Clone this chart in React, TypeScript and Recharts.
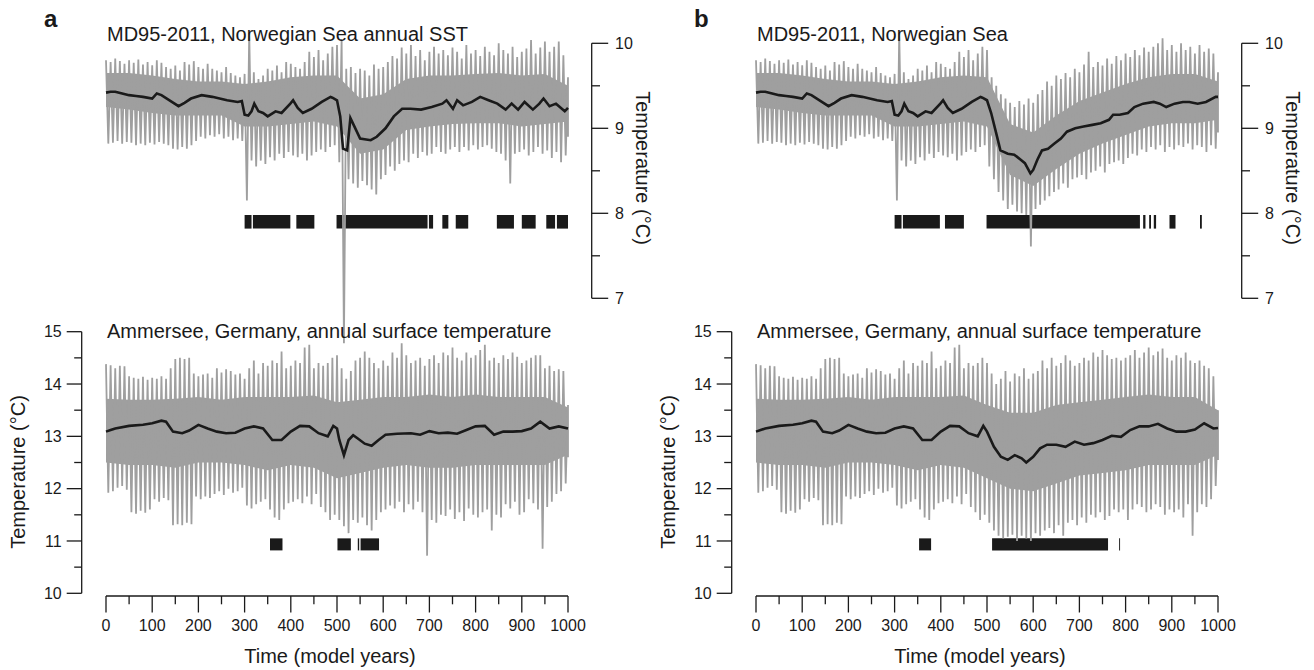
import React from 'react';
import { ComposedChart, Line, Area, XAxis, YAxis, ReferenceArea } from 'recharts';

// ---------------- data ----------------
// Annual grey series: per 10-year bin, upper and lower excursion (°C).
// Years 0-490 are identical in both panels.
const sstHiShared = [9.80, 9.78, 9.82, 9.79, 9.76, 9.80, 9.77, 9.81, 9.75, 9.78,
  9.74, 9.80, 9.77, 9.72, 9.70, 9.74, 9.68, 9.78, 9.75, 9.79,
  9.72, 9.70, 9.76, 9.70, 9.68, 9.66, 9.72, 9.65, 9.62, 9.60,
  9.64, 10.12, 9.66, 9.58, 9.62, 9.70, 9.68, 9.74, 9.66, 9.78,
  9.76, 9.72, 9.70, 9.78, 9.90, 9.84, 9.92, 9.80, 9.88, 9.96];
const sstLoShared = [8.82, 8.83, 8.85, 8.82, 8.84, 8.83, 8.80, 8.82, 8.80, 8.83,
  8.81, 8.84, 8.82, 8.80, 8.76, 8.75, 8.78, 8.76, 8.80, 8.85,
  8.90, 8.88, 8.92, 8.90, 8.93, 8.88, 8.90, 8.86, 8.88, 8.85,
  8.15, 8.62, 8.55, 8.62, 8.58, 8.66, 8.62, 8.70, 8.65, 8.72,
  8.68, 8.66, 8.70, 8.62, 8.68, 8.72, 8.75, 8.72, 8.78, 8.80];
const sstHiA = [9.98, 10.05, 9.70, 9.72, 9.65, 9.70, 9.68, 9.62, 9.75, 9.70,
  9.72, 9.78, 9.85, 9.82, 9.95, 9.88, 9.98, 9.85, 9.92, 9.80,
  9.90, 9.96, 9.88, 9.92, 9.86, 9.95, 9.90, 9.82, 9.98, 9.88,
  9.92, 9.85, 9.96, 9.90, 9.86, 10.00, 9.92, 9.88, 9.96, 9.84,
  9.90, 9.94, 10.04, 9.88, 9.95, 10.02, 9.90, 9.96, 10.02, 9.86, 9.60];
const sstLoA = [8.60, 6.47, 8.40, 8.35, 8.30, 8.38, 8.33, 8.28, 8.22, 8.40,
  8.45, 8.55, 8.50, 8.58, 8.62, 8.60, 8.70, 8.65, 8.72, 8.68,
  8.70, 8.78, 8.72, 8.70, 8.75, 8.78, 8.72, 8.78, 8.74, 8.80,
  8.75, 8.78, 8.80, 8.76, 8.72, 8.70, 8.62, 8.35, 8.70, 8.72,
  8.75, 8.68, 8.72, 8.78, 8.70, 8.74, 8.65, 8.72, 8.60, 8.68, 8.90];
const sstHiB = [9.92, 9.60, 9.50, 9.40, 9.35, 9.30, 9.25, 9.32, 9.28, 9.35,
  9.30, 9.40, 9.45, 9.55, 9.50, 9.62, 9.58, 9.65, 9.60, 9.70,
  9.66, 9.75, 9.90, 9.72, 9.78, 9.74, 9.82, 9.76, 9.85, 9.80,
  9.88, 9.84, 9.92, 9.86, 9.95, 9.90, 9.96, 10.00, 10.06, 9.92,
  9.98, 9.90, 10.00, 9.92, 9.96, 9.88, 9.98, 9.90, 9.94, 9.88, 9.66];
const sstLoB = [8.55, 8.40, 8.25, 8.15, 8.05, 8.10, 8.02, 8.00, 7.98, 7.61,
  8.05, 8.10, 8.15, 8.20, 8.25, 8.28, 8.35, 8.30, 8.40, 8.42,
  8.45, 8.40, 8.48, 8.50, 8.55, 8.48, 8.58, 8.60, 8.62, 8.58,
  8.65, 8.70, 8.68, 8.75, 8.72, 8.78, 8.75, 8.80, 8.72, 8.78,
  8.75, 8.80, 8.78, 8.82, 8.75, 8.80, 8.78, 8.72, 8.80, 8.76, 8.95];

const ammHiShared = [14.38, 14.36, 14.30, 14.35, 14.34, 14.15, 14.12, 14.10, 14.14, 14.08,
  14.12, 14.10, 14.15, 14.10, 14.30, 14.48, 14.50, 14.48, 14.50, 14.20,
  14.15, 14.18, 14.20, 14.12, 14.30, 14.22, 14.28, 14.25, 14.18, 14.20,
  14.10, 14.30, 14.45, 14.20, 14.40, 14.35, 14.45, 14.40, 14.62, 14.30,
  14.35, 14.45, 14.40, 14.70, 14.75, 14.30, 14.40, 14.35, 14.40, 14.50];
const ammLoShared = [11.92, 11.95, 12.02, 12.05, 11.98, 11.55, 11.52, 11.58, 11.54, 11.60,
  11.80, 11.75, 11.82, 11.78, 11.30, 11.32, 11.30, 11.35, 11.32, 11.85,
  11.80, 11.85, 11.82, 11.90, 11.95, 11.88, 12.00, 11.92, 11.95, 12.02,
  11.68, 11.62, 11.70, 11.75, 11.80, 11.60, 11.45, 11.40, 11.60, 11.72,
  11.75, 11.80, 11.72, 11.85, 11.70, 11.90, 11.65, 11.55, 11.40, 11.50];
const ammHiA = [14.55, 14.30, 14.10, 14.25, 14.45, 14.50, 14.62, 14.50, 14.40, 14.30,
  14.45, 14.35, 14.60, 14.50, 14.78, 14.55, 14.40, 14.45, 14.50, 14.35,
  14.48, 14.55, 14.40, 14.60, 14.55, 14.70, 14.50, 14.45, 14.60, 14.50,
  14.55, 14.65, 14.75, 14.45, 14.50, 14.40, 14.55, 14.48, 14.60, 14.52,
  14.40, 14.45, 14.50, 14.55, 14.55, 14.30, 14.35, 14.25, 14.28, 14.25, 13.60];
const ammLoA = [11.40, 11.28, 11.15, 11.40, 11.35, 11.45, 11.30, 11.20, 11.40, 11.55,
  11.60, 11.68, 11.62, 11.75, 11.55, 11.70, 11.60, 11.75, 11.55, 10.72,
  11.40, 11.35, 11.50, 11.48, 11.60, 11.42, 11.55, 11.38, 11.62, 11.50,
  11.45, 11.55, 11.60, 11.20, 11.50, 11.45, 11.70, 11.62, 11.75, 11.50,
  11.55, 11.80, 11.72, 11.60, 10.85, 11.65, 11.75, 11.90, 11.95, 12.10, 12.60];
const ammHiB = [14.40, 14.20, 14.00, 14.10, 14.25, 14.05, 14.20, 14.15, 14.30, 14.10,
  14.20, 14.25, 14.45, 14.30, 14.50, 14.35, 14.40, 14.55, 14.45, 14.35,
  14.40, 14.50, 14.45, 14.60, 14.52, 14.65, 14.55, 14.48, 14.50, 14.45,
  14.50, 14.55, 14.65, 14.50, 14.60, 14.70, 14.55, 14.62, 14.68, 14.50,
  14.45, 14.55, 14.50, 14.60, 14.45, 14.40, 14.45, 14.35, 14.30, 14.15, 13.50];
const ammLoB = [11.35, 11.20, 11.10, 11.05, 11.08, 11.12, 11.00, 11.10, 11.05, 11.00,
  11.15, 11.10, 11.20, 11.25, 11.15, 11.30, 11.10, 11.35, 11.40, 11.30,
  11.45, 11.35, 11.50, 11.45, 11.55, 11.40, 11.48, 11.60, 11.55, 11.60,
  11.40, 11.60, 11.70, 11.65, 11.55, 11.60, 11.70, 11.65, 11.50, 11.60,
  11.55, 11.60, 11.45, 11.70, 11.10, 11.55, 11.70, 11.65, 11.80, 12.05, 12.55];

// Dense core of the grey band, every 50 years: [lower, upper] (°C)
const sstCoreShared = [[9.25, 9.65], [9.22, 9.65], [9.18, 9.62], [9.15, 9.58], [9.15, 9.55],
  [9.15, 9.55], [9.02, 9.52], [9.02, 9.55], [9.05, 9.60], [9.08, 9.62]];
const sstCoreA = [[9.02, 9.62], [8.70, 9.35], [8.75, 9.40], [8.98, 9.58], [9.02, 9.62], [9.05, 9.62],
  [9.06, 9.64], [9.06, 9.65], [9.02, 9.62], [9.05, 9.64], [9.08, 9.50]];
const sstCoreB = [[9.02, 9.60], [8.45, 9.05], [8.32, 8.95], [8.52, 9.15], [8.70, 9.32], [8.82, 9.42],
  [8.92, 9.52], [9.02, 9.60], [9.06, 9.64], [9.06, 9.64], [9.10, 9.55]];
const ammCoreShared = [[12.50, 13.72], [12.45, 13.70], [12.45, 13.70], [12.40, 13.72], [12.50, 13.75],
  [12.50, 13.70], [12.45, 13.75], [12.35, 13.75], [12.45, 13.75], [12.40, 13.78]];
const ammCoreA = [[12.20, 13.65], [12.30, 13.70], [12.40, 13.75], [12.45, 13.75], [12.40, 13.80], [12.40, 13.75],
  [12.45, 13.80], [12.45, 13.75], [12.45, 13.75], [12.45, 13.75], [12.65, 13.55]];
const ammCoreB = [[12.20, 13.60], [12.00, 13.45], [11.95, 13.45], [12.10, 13.60], [12.25, 13.65], [12.30, 13.70],
  [12.35, 13.75], [12.45, 13.80], [12.45, 13.75], [12.45, 13.75], [12.65, 13.50]];

// Smoothed (black) curves: [year, °C]
const sstSmoothShared = [[0, 9.42], [10, 9.43], [20, 9.43], [35, 9.41], [50, 9.39], [65, 9.38], [80, 9.37],
  [100, 9.35], [110, 9.41], [120, 9.39], [140, 9.32], [157, 9.26], [170, 9.30], [184, 9.35], [207, 9.39],
  [230, 9.37], [262, 9.33], [285, 9.31], [294, 9.32], [300, 9.16], [308, 9.15], [315, 9.20], [321, 9.29],
  [330, 9.20], [340, 9.18], [350, 9.14], [367, 9.20], [380, 9.18], [399, 9.29], [405, 9.33], [415, 9.24],
  [426, 9.18], [445, 9.23], [467, 9.31], [486, 9.37], [490, 9.36]];
const sstSmoothA = [[500, 9.33], [507, 9.14], [513, 8.76], [522, 8.74], [529, 9.12], [536, 9.04], [550, 8.88],
  [573, 8.86], [586, 8.90], [605, 9.00], [623, 9.14], [641, 9.23], [659, 9.23], [682, 9.22], [705, 9.25],
  [728, 9.29], [737, 9.33], [751, 9.23], [760, 9.33], [773, 9.27], [792, 9.31], [810, 9.37], [828, 9.33],
  [847, 9.29], [865, 9.22], [878, 9.29], [892, 9.22], [906, 9.31], [924, 9.22], [938, 9.29], [947, 9.35],
  [960, 9.26], [974, 9.29], [993, 9.20], [1000, 9.24]];
const sstSmoothB = [[500, 9.33], [509, 9.18], [520, 8.94], [529, 8.74], [545, 8.70], [559, 8.69], [573, 8.63],
  [582, 8.59], [594, 8.47], [600, 8.51], [609, 8.63], [619, 8.74], [632, 8.76], [646, 8.82], [660, 8.88],
  [673, 8.96], [691, 9.00], [709, 9.02], [728, 9.04], [746, 9.06], [764, 9.10], [773, 9.16], [787, 9.16],
  [805, 9.18], [819, 9.25], [838, 9.29], [861, 9.31], [874, 9.29], [888, 9.25], [906, 9.29], [924, 9.31],
  [938, 9.31], [956, 9.29], [974, 9.31], [995, 9.37], [1000, 9.37]];
const ammSmoothShared = [[0, 13.09], [10, 13.12], [20, 13.15], [50, 13.20], [80, 13.22], [100, 13.25], [120, 13.30],
  [130, 13.28], [145, 13.09], [165, 13.06], [180, 13.11], [200, 13.22], [220, 13.15], [240, 13.09], [260, 13.06],
  [280, 13.07], [300, 13.15], [320, 13.19], [340, 13.15], [360, 12.93], [380, 12.93], [400, 13.09], [420, 13.20],
  [440, 13.19], [460, 13.06], [480, 13.00], [492, 13.20]];
const ammSmoothA = [[500, 13.15], [505, 12.93], [515, 12.64], [525, 12.93], [535, 13.02], [545, 12.96], [560, 12.86],
  [575, 12.82], [590, 12.93], [605, 13.03], [630, 13.05], [660, 13.06], [680, 13.03], [700, 13.10], [720, 13.06],
  [740, 13.07], [760, 13.05], [780, 13.12], [800, 13.19], [820, 13.20], [840, 13.03], [860, 13.09], [880, 13.09],
  [900, 13.10], [920, 13.15], [940, 13.28], [960, 13.15], [980, 13.19], [1000, 13.15]];
const ammSmoothB = [[500, 13.09], [515, 12.80], [530, 12.61], [545, 12.55], [560, 12.64], [575, 12.58], [585, 12.50],
  [600, 12.61], [615, 12.77], [630, 12.84], [650, 12.84], [670, 12.80], [690, 12.90], [710, 12.84], [730, 12.87],
  [750, 12.93], [770, 13.01], [790, 12.99], [810, 13.12], [830, 13.19], [850, 13.19], [870, 13.24], [890, 13.15],
  [910, 13.09], [930, 13.09], [950, 13.13], [970, 13.25], [990, 13.15], [1000, 13.16]];

// Significance intervals (years) and the level at which they are marked (°C)
const sigSstA = [[300, 315], [318, 399], [412, 451], [499, 696], [699, 708], [728, 741], [757, 784],
  [846, 883], [900, 930], [953, 972], [976, 1000]];
const sigAmmA = [[355, 382], [501, 530], [545, 548], [551, 591]];
const sigSstB = [[300, 315], [318, 398], [409, 450], [499, 831], [838, 843], [851, 855], [861, 866],
  [895, 908], [961, 965]];
const sigAmmB = [[353, 379], [511, 762], [786, 788]];
const sigSstLevel = [7.82, 7.98];
const sigAmmLevel = [10.82, 11.05];

// Axis ticks
const xTicks = [0, 50, 100, 150, 200, 250, 300, 350, 400, 450, 500, 550, 600, 650, 700, 750, 800, 850, 900, 950, 1000];
const sstTicks = [7, 7.5, 8, 8.5, 9, 9.5, 10];
const ammTicks = [10, 10.5, 11, 11.5, 12, 12.5, 13, 13.5, 14, 14.5, 15];

const BIN = 10;
const CORE_STEP = 50;

// ---------------- layout & style ----------------
const FONT = '"Liberation Sans", Arial, Helvetica, sans-serif';
const INK = '#1a1a1a';
const GREY = '#9f9f9f';
const PAGE_W = 1314, PAGE_H = 670;
const PANEL_DX = 650;
const CHART_W = 660;
const PLOT_L = 106, PLOT_R = 568;
const SST_Y10 = 43.3, SST_Y7 = 298.3;
const AMM_Y15 = 331.7, AMM_Y10 = 593.3;
const XAXIS_Y = 596, XAXIS_H = 70;
const LEFT_AXIS_X = 81.7, RIGHT_AXIS_X = 591.7;
const SST_DATA_H = 360;
const SST_PX = (SST_Y7 - SST_Y10) / 3;
const AMM_PX = (AMM_Y10 - AMM_Y15) / 5;
const SST_DOMAIN = [10 - (SST_DATA_H - SST_Y10) / SST_PX, 10 + SST_Y10 / SST_PX];
const AMM_DOMAIN = [10 - (XAXIS_Y - AMM_Y10) / AMM_PX, 15];
const GREY_W = 1.8;

type Pt = { t: number; v: number | number[] };

function zigzag(hi: number[], lo: number[]) {
  const pts: Pt[] = [];
  hi.forEach((h, i) => {
    const t = i * BIN;
    pts.push({ t, v: h });
    pts.push({ t: Math.min(t + BIN / 2, 1000), v: lo[i] });
  });
  return pts;
}
const core = (arr: number[][]): Pt[] => arr.map((r, i) => ({ t: i * CORE_STEP, v: r }));
const pairs = (arr: number[][]): Pt[] => arr.map(([t, v]) => ({ t, v }));

const XTick = (p: any) => {
  const { x, y, payload } = p;
  const major = payload.value % 100 === 0;
  return (
    <g>
      <line x1={x} x2={x} y1={y} y2={y + (major ? 16.5 : 8.3)} stroke={INK} strokeWidth={1.3} />
      {major && (
        <text x={x} y={y + 34.7} textAnchor="middle" fontSize={16} fontFamily={FONT} fill={INK}>
          {payload.value}
        </text>
      )}
    </g>
  );
};
const LeftTick = (p: any) => {
  const { x, y, payload } = p;
  const major = Number.isInteger(payload.value);
  return (
    <g>
      <line x1={x - (major ? 15 : 7.5)} x2={x} y1={y} y2={y} stroke={INK} strokeWidth={1.3} />
      {major && (
        <text x={x - 20} y={y + 5.7} textAnchor="end" fontSize={16} fontFamily={FONT} fill={INK}>
          {payload.value}
        </text>
      )}
    </g>
  );
};
const RightTick = (p: any) => {
  const { x, y, payload } = p;
  const major = Number.isInteger(payload.value);
  return (
    <g>
      <line x1={x} x2={x + (major ? 16.5 : 8.3)} y1={y} y2={y} stroke={INK} strokeWidth={1.3} />
      {major && (
        <text x={x + 23.3} y={y + 5.7} textAnchor="start" fontSize={16} fontFamily={FONT} fill={INK}>
          {payload.value}
        </text>
      )}
    </g>
  );
};

type PanelProps = {
  dx: number;
  sstGrey: Pt[];
  sstCore: Pt[];
  sstSmooth: Pt[];
  ammGrey: Pt[];
  ammCore: Pt[];
  ammSmooth: Pt[];
  sigSst: number[][];
  sigAmm: number[][];
};

const abs = (left: number, top: number): React.CSSProperties => ({ position: 'absolute', left, top });

function Panel({ dx, sstGrey, sstCore, sstSmooth, ammGrey, ammCore, ammSmooth, sigSst, sigAmm }: PanelProps) {
  const axisLine = { stroke: INK, strokeWidth: 1.3 };
  return (
    <>
      {/* left axis of the Ammersee plot */}
      <div style={abs(dx, 0)}>
        <ComposedChart width={CHART_W} height={PAGE_H}
          margin={{ top: AMM_Y15, bottom: PAGE_H - AMM_Y10, left: LEFT_AXIS_X - 80, right: CHART_W - PLOT_R }}>
          <XAxis type="number" dataKey="t" domain={[0, 1000]} hide />
          <YAxis type="number" domain={[10, 15]} allowDataOverflow ticks={ammTicks} interval={0} width={80}
            tickSize={0} tickMargin={0} tickLine={false} axisLine={axisLine} tick={(p: any) => <LeftTick {...p} />} />
        </ComposedChart>
      </div>
      {/* Ammersee data + time axis */}
      <div style={abs(dx, 0)}>
        <ComposedChart width={CHART_W} height={PAGE_H}
          margin={{ top: AMM_Y15, bottom: PAGE_H - XAXIS_Y - XAXIS_H, left: PLOT_L, right: CHART_W - PLOT_R }}>
          <XAxis type="number" dataKey="t" domain={[0, 1000]} ticks={xTicks} interval={0} height={XAXIS_H}
            tickSize={0} tickMargin={0} tickLine={false} axisLine={axisLine} tick={(p: any) => <XTick {...p} />} />
          <YAxis type="number" domain={AMM_DOMAIN} allowDataOverflow hide />
          <Area data={ammCore} dataKey="v" type="linear" fill={GREY} fillOpacity={1} stroke="none"
            isAnimationActive={false} />
          <Line data={ammGrey} dataKey="v" type="linear" stroke={GREY} strokeWidth={GREY_W} dot={false}
            isAnimationActive={false} />
          <Line data={ammSmooth} dataKey="v" type="linear" stroke={INK} strokeWidth={2.6} dot={false}
            isAnimationActive={false} />
          {sigAmm.map(([a, b], i) => (
            <ReferenceArea key={i} x1={a} x2={b} y1={sigAmmLevel[0]} y2={sigAmmLevel[1]} fill={INK}
              fillOpacity={1} stroke="none" />
          ))}
        </ComposedChart>
      </div>
      {/* right axis of the Norwegian Sea plot */}
      <div style={abs(dx, 0)}>
        <ComposedChart width={CHART_W} height={320}
          margin={{ top: SST_Y10, bottom: 320 - SST_Y7, left: PLOT_L, right: CHART_W - RIGHT_AXIS_X - 60 }}>
          <XAxis type="number" dataKey="t" domain={[0, 1000]} hide />
          <YAxis yAxisId="r" orientation="right" type="number" domain={[7, 10]} allowDataOverflow ticks={sstTicks}
            interval={0} width={60} tickSize={0} tickMargin={0} tickLine={false} axisLine={axisLine}
            tick={(p: any) => <RightTick {...p} />} />
        </ComposedChart>
      </div>
      {/* Norwegian Sea data */}
      <div style={abs(dx, 0)}>
        <ComposedChart width={CHART_W} height={SST_DATA_H}
          margin={{ top: 0, bottom: 0, left: PLOT_L, right: CHART_W - PLOT_R }}>
          <XAxis type="number" dataKey="t" domain={[0, 1000]} hide />
          <YAxis type="number" domain={SST_DOMAIN} allowDataOverflow hide />
          <Area data={sstCore} dataKey="v" type="linear" fill={GREY} fillOpacity={1} stroke="none"
            isAnimationActive={false} />
          <Line data={sstGrey} dataKey="v" type="linear" stroke={GREY} strokeWidth={GREY_W} dot={false}
            isAnimationActive={false} />
          <Line data={sstSmooth} dataKey="v" type="linear" stroke={INK} strokeWidth={2.6} dot={false}
            isAnimationActive={false} />
          {sigSst.map(([a, b], i) => (
            <ReferenceArea key={i} x1={a} x2={b} y1={sigSstLevel[0]} y2={sigSstLevel[1]} fill={INK}
              fillOpacity={1} stroke="none" />
          ))}
        </ComposedChart>
      </div>
    </>
  );
}

function Texts({ dx, letter, topTitle }: { dx: number; letter: string; topTitle: string }) {
  return (
    <g fontFamily={FONT} fill={INK}>
      <text x={dx + 44} y={27.3} fontSize={24} fontWeight="bold">{letter}</text>
      <text x={dx + 107} y={40.7} fontSize={20}>{topTitle}</text>
      <text x={dx + 107} y={337.5} fontSize={20}>Ammersee, Germany, annual surface temperature</text>
      <text x={dx + 330} y={663.3} fontSize={20} textAnchor="middle">Time (model years)</text>
      <text transform={`translate(${dx + 18.3},472) rotate(-90)`} fontSize={20} textAnchor="middle" dy="0.35em">
        Temperature (°C)
      </text>
      <text transform={`translate(${dx + 643},168) rotate(90)`} fontSize={20} textAnchor="middle" dy="0.35em">
        Temperature (°C)
      </text>
    </g>
  );
}

export default function App() {
  const sstGreyA = zigzag(sstHiShared.concat(sstHiA), sstLoShared.concat(sstLoA));
  const sstGreyB = zigzag(sstHiShared.concat(sstHiB), sstLoShared.concat(sstLoB));
  const ammGreyA = zigzag(ammHiShared.concat(ammHiA), ammLoShared.concat(ammLoA));
  const ammGreyB = zigzag(ammHiShared.concat(ammHiB), ammLoShared.concat(ammLoB));
  return (
    <div style={{ position: 'absolute', left: 0, top: 0, width: PAGE_W, height: PAGE_H, background: '#fff', overflow: 'hidden' }}>
      <Panel dx={0} sstGrey={sstGreyA} sstCore={core(sstCoreShared.concat(sstCoreA))}
        sstSmooth={pairs(sstSmoothShared.concat(sstSmoothA))}
        ammGrey={ammGreyA} ammCore={core(ammCoreShared.concat(ammCoreA))}
        ammSmooth={pairs(ammSmoothShared.concat(ammSmoothA))} sigSst={sigSstA} sigAmm={sigAmmA} />
      <Panel dx={PANEL_DX} sstGrey={sstGreyB} sstCore={core(sstCoreShared.concat(sstCoreB))}
        sstSmooth={pairs(sstSmoothShared.concat(sstSmoothB))}
        ammGrey={ammGreyB} ammCore={core(ammCoreShared.concat(ammCoreB))}
        ammSmooth={pairs(ammSmoothShared.concat(ammSmoothB))} sigSst={sigSstB} sigAmm={sigAmmB} />
      <svg width={PAGE_W} height={PAGE_H} style={{ position: 'absolute', left: 0, top: 0, pointerEvents: 'none' }}>
        <Texts dx={0} letter="a" topTitle="MD95-2011, Norwegian Sea annual SST" />
        <Texts dx={PANEL_DX} letter="b" topTitle="MD95-2011, Norwegian Sea" />
      </svg>
    </div>
  );
}
